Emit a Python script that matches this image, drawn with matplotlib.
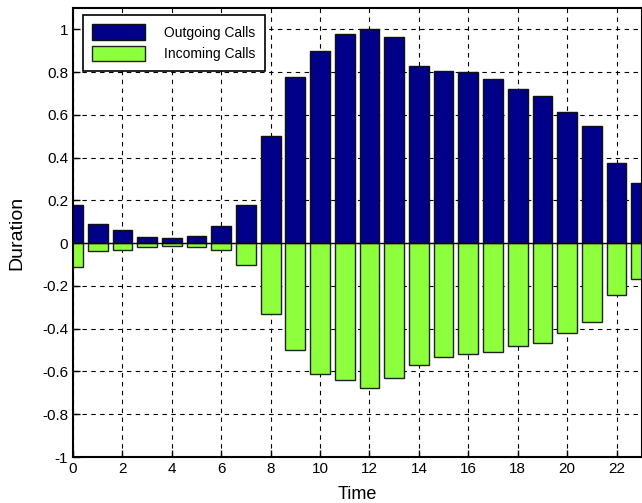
import matplotlib
matplotlib.use("Agg")
import matplotlib.pyplot as plt
from matplotlib.ticker import FuncFormatter
import numpy as np

hours = list(range(24))
outgoing = [0.18, 0.09, 0.06, 0.03, 0.025, 0.035, 0.08, 0.18, 0.50, 0.775,
            0.90, 0.98, 1.00, 0.965, 0.83, 0.805, 0.80, 0.77, 0.72, 0.69,
            0.615, 0.55, 0.375, 0.28]
incoming = [-0.11, -0.035, -0.03, -0.02, -0.012, -0.02, -0.03, -0.10, -0.33, -0.50,
            -0.61, -0.64, -0.675, -0.63, -0.57, -0.53, -0.52, -0.51, -0.48, -0.465,
            -0.42, -0.37, -0.242, -0.166]
xticks = list(range(0, 23, 2))
yticks = [-1, -0.8, -0.6, -0.4, -0.2, 0, 0.2, 0.4, 0.6, 0.8, 1]

plt.rcParams['font.family'] = ['Liberation Sans', 'DejaVu Sans']

fig = plt.figure(figsize=(6.42, 5.03), dpi=100)
ax = fig.add_axes([73/642, 1-457/503, 1-73/642, (457-8)/503])

ax.set_axisbelow(True)
ax.grid(True, color='black', linestyle=(0, (4, 4)), linewidth=0.8)

ax.bar(hours, outgoing, width=0.8, color='#000088', edgecolor='#111111',
       linewidth=1.0, label='Outgoing Calls')
ax.bar(hours, incoming, width=0.8, color='#8EFF3C', edgecolor='#222222',
       linewidth=1.0, label='Incoming Calls')
ax.axhline(0, color='black', linewidth=1.0)

ax.set_xlim(0, 23.03)
ax.set_ylim(-1, 1.1)
ax.set_xticks(xticks)
ax.set_yticks(yticks)
ax.yaxis.set_major_formatter(FuncFormatter(lambda v, p: '%g' % round(v, 2)))
ax.tick_params(direction='in', length=5, labelsize=11, width=1)
for s in ax.spines.values():
    s.set_linewidth(1.5)

ax.set_xlabel('Time', fontsize=13, labelpad=7)
ax.set_ylabel('Duration', fontsize=14, labelpad=12)

leg = ax.legend(loc='upper left', bbox_to_anchor=(10/569, 1 - 7/449), borderaxespad=0,
                fontsize=10, fancybox=False, framealpha=1, edgecolor='black',
                handlelength=3.75, handleheight=1.3, handletextpad=1.4,
                borderpad=0.68, labelspacing=0.45)
leg.get_frame().set_linewidth(1.2)

fig.savefig('out.png', dpi=100)
